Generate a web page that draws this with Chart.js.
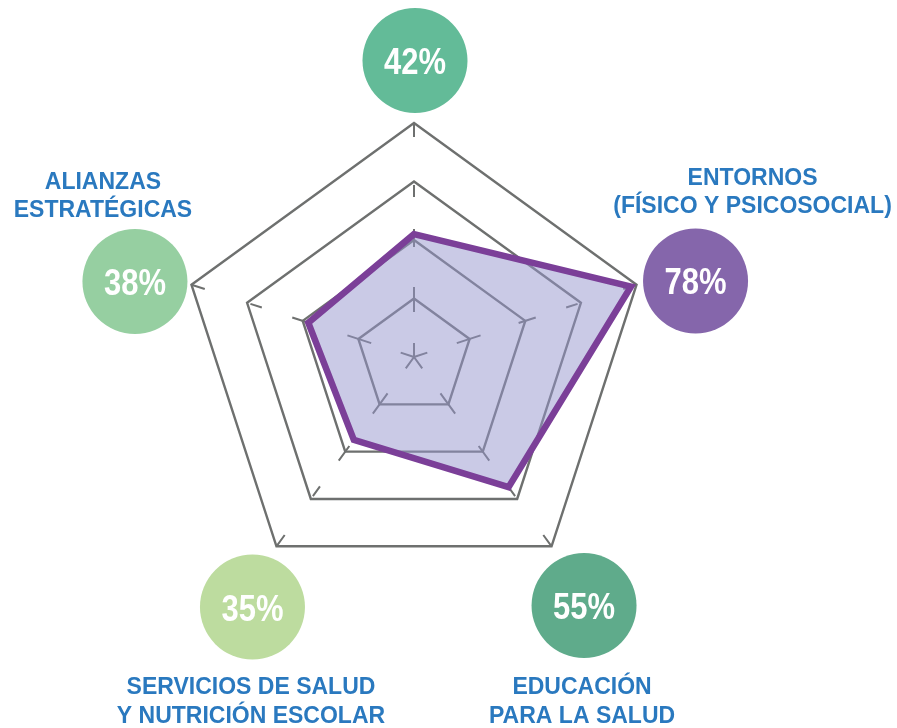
<!DOCTYPE html>
<html>
<head>
<meta charset="utf-8">
<script src="https://cdn.jsdelivr.net/npm/chart.js@4.4.0/dist/chart.umd.min.js"></script>
<style>
  html, body { margin: 0; padding: 0; background: #fff; }
  #wrap { width: 897px; height: 728px; }
</style>
</head>
<body>
<div id="wrap"><canvas id="radar" width="897" height="728"></canvas></div>
<script>
// data
const categories = [
  [""],
  ["ENTORNOS", "(FÍSICO Y PSICOSOCIAL)"],
  ["EDUCACIÓN", "PARA LA SALUD"],
  ["SERVICIOS DE SALUD", "Y NUTRICIÓN ESCOLAR"],
  ["ALIANZAS", "ESTRATÉGICAS"],
];
const values = [42, 78, 55, 35, 38];
const scaleTicks = [0, 20, 40, 60, 80];

// look
const bubbleColors = ["#63bb98", "#8566ab", "#5fab8b", "#bddc9f", "#96cfa1"];
const labelColor = "#2a79bf";
const gridColor = "#6e706f";
// bubble / label placement, relative to each outer vertex of the scale
const bubbleOffsets = [[1, -62.5], [59, -3.7], [32.5, 59.2], [-24, 60.7], [-56.5, -3.2]];
const labelOffsets = [[0, 0], [116, -99.7], [30.5, 147.7], [-25.5, 147.7], [-88.5, -95.7]];

const bubblePlugin = {
  id: "bubbles",
  afterDatasetsDraw(chart) {
    const scale = chart.scales.r;
    const ctx = chart.ctx;
    ctx.save();
    ctx.textAlign = "center";
    ctx.textBaseline = "alphabetic";
    categories.forEach((lines, i) => {
      const v = scale.getPointPosition(i, scale.drawingArea);
      const cx = v.x + bubbleOffsets[i][0];
      const cy = v.y + bubbleOffsets[i][1];

      ctx.beginPath();
      ctx.arc(cx, cy, 52.5, 0, Math.PI * 2);
      ctx.fillStyle = bubbleColors[i];
      ctx.fill();

      // condensed white percentage
      ctx.save();
      ctx.translate(cx, cy + 13.5);
      ctx.scale(0.86, 1);
      ctx.fillStyle = "#fff";
      ctx.font = "bold 36px 'Liberation Sans', Arial, sans-serif";
      ctx.fillText(values[i] + "%", 0, 0);
      ctx.restore();

      ctx.fillStyle = labelColor;
      ctx.font = "bold 23px 'Liberation Sans', Arial, sans-serif";
      lines.forEach((line, k) => {
        ctx.fillText(line, v.x + labelOffsets[i][0], v.y + labelOffsets[i][1] + k * 28.5);
      });
    });
    ctx.restore();
  },
};

const ctx = document.getElementById("radar").getContext("2d");
const chart = new Chart(ctx, {
  type: "radar",
  data: {
    labels: categories.map((c) => c.join(" ")),
    datasets: [
      {
        data: values,
        backgroundColor: "rgba(150, 150, 205, 0.5)",
        borderColor: "#7b3f98",
        borderWidth: 6.5,
        fill: true,
        pointRadius: 0,
      },
    ],
  },
  options: {
    responsive: false,
    animation: false,
    layout: { padding: { top: 123, bottom: 137, left: 0, right: 69 } },
    plugins: {
      legend: { display: false },
      tooltip: { enabled: false },
    },
    elements: { line: { tension: 0, borderJoinStyle: "miter" } },
    scales: {
      r: {
        min: 0,
        max: 80,
        afterBuildTicks: (s) => {
          s.ticks = scaleTicks.map((v) => ({ value: v }));
        },
        ticks: { display: false },
        pointLabels: { display: false },
        grid: { color: gridColor, lineWidth: 2.4 },
        angleLines: {
          color: gridColor,
          lineWidth: 2,
          borderDash: [14, 31, 25, 40, 18, 32, 12, 48, 14],
        },
      },
    },
  },
  plugins: [bubblePlugin],
});
</script>
</body>
</html>
